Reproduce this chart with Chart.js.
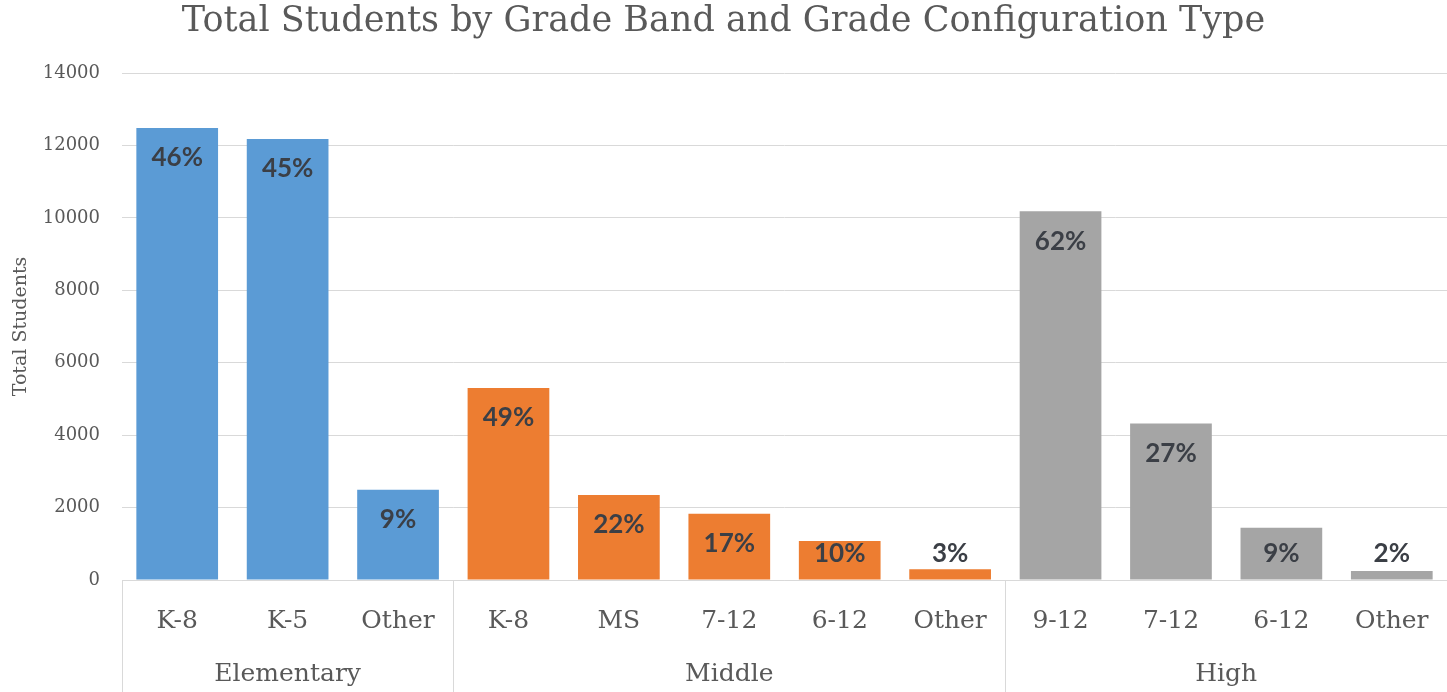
<!DOCTYPE html>
<html>
<head>
<meta charset="utf-8">
<script src="https://cdn.jsdelivr.net/npm/chart.js@4.4.1/dist/chart.umd.min.js"></script>
<style>
html,body{margin:0;padding:0;background:#fff;}
#wrap{width:1447px;height:692px;position:relative;}
</style>
</head>
<body>
<div id="wrap"><canvas id="c" width="1447" height="692"></canvas></div>
<script>
const categories = ["K-8","K-5","Other","K-8","MS","7-12","6-12","Other","9-12","7-12","6-12","Other"];
const groups = ["Elementary","Elementary","Elementary","Middle","Middle","Middle","Middle","Middle","High","High","High","High"];
const groupNames = ["Elementary","Middle","High"];
const totalStudents = [12480,12180,2490,5300,2350,1830,1080,300,10180,4320,1440,250];
const percentLabels = ["46%","45%","9%","49%","22%","17%","10%","3%","62%","27%","9%","2%"];
const yTicks = [0,2000,4000,6000,8000,10000,12000,14000];
const groupColors = {"Elementary":"#5B9BD5","Middle":"#ED7D31","High":"#A5A5A5"};

const SERIF = '"DejaVu Serif",serif';

const groupPlugin = {
  id:'groupPlugin',
  afterDraw(chart){
    const ctx = chart.ctx;
    const x = chart.scales.x;
    const area = chart.chartArea;
    const n = categories.length;
    const band = (x.getPixelForValue(1) - x.getPixelForValue(0));
    ctx.save();
    ctx.strokeStyle = '#d9d9d9';
    ctx.lineWidth = 1;
    ctx.beginPath();
    ctx.moveTo(area.left, Math.round(area.bottom)+0.5);
    ctx.lineTo(area.right, Math.round(area.bottom)+0.5);
    ctx.stroke();
    let start = 0;
    ctx.fillStyle = '#595959';
    ctx.font = '25px ' + SERIF;
    ctx.textAlign = 'center';
    ctx.textBaseline = 'middle';
    for (let i=1;i<=n;i++){
      if (i===n || groups[i]!==groups[start]){
        const left = x.getPixelForValue(start) - band/2;
        const right = x.getPixelForValue(i-1) + band/2;
        ctx.beginPath();
        ctx.moveTo(Math.round(left)+0.5, area.bottom);
        ctx.lineTo(Math.round(left)+0.5, chart.height);
        ctx.stroke();
        ctx.fillText(groups[start], (left+right)/2, area.bottom + 94);
        start = i;
      }
    }
    const meta = chart.getDatasetMeta(0);
    ctx.fillStyle = '#3b3f46';
    ctx.font = 'bold 26px Lato, "Open Sans", sans-serif';
    meta.data.forEach((bar,i)=>{
      const y = Math.min(bar.y + 30, bar.base - 26);
      ctx.fillText(percentLabels[i], bar.x, y);
    });
    ctx.restore();
  }
};

new Chart(document.getElementById('c'), {
  type:'bar',
  data:{
    labels:categories,
    datasets:[{
      label:'Total Students',
      data:totalStudents,
      backgroundColor:groups.map(g=>groupColors[g]),
      barPercentage:0.74,
      categoryPercentage:1.0
    }]
  },
  options:{
    responsive:false,
    animation:false,
    layout:{padding:{left:0,right:0,top:0,bottom:0}},
    plugins:{
      legend:{display:false},
      tooltip:{enabled:false},
      title:{
        display:true,
        text:'Total Students by Grade Band and Grade Configuration Type',
        color:'#595959',
        font:{family:SERIF,size:35,weight:'normal'},
        padding:{top:1,bottom:30}
      }
    },
    scales:{
      x:{
        grid:{display:false},
        border:{display:false},
        ticks:{color:'#595959',font:{family:SERIF,size:25},padding:18,maxRotation:0,autoSkip:false},
        afterFit(s){ s.height = 112; }
      },
      y:{
        min:0,max:14000,
        afterBuildTicks(s){ s.ticks = yTicks.map(v=>({value:v})); },
        grid:{color:'#d9d9d9',drawTicks:false},
        border:{display:false},
        ticks:{color:'#595959',font:{family:SERIF,size:18},padding:22,callback:(v)=>String(v)},
        title:{display:true,text:'Total Students',color:'#595959',font:{family:SERIF,size:19},padding:{top:10,bottom:0}},
        afterFit(s){ s.width = 122; }
      }
    }
  },
  plugins:[groupPlugin]
});
</script>
</body>
</html>
